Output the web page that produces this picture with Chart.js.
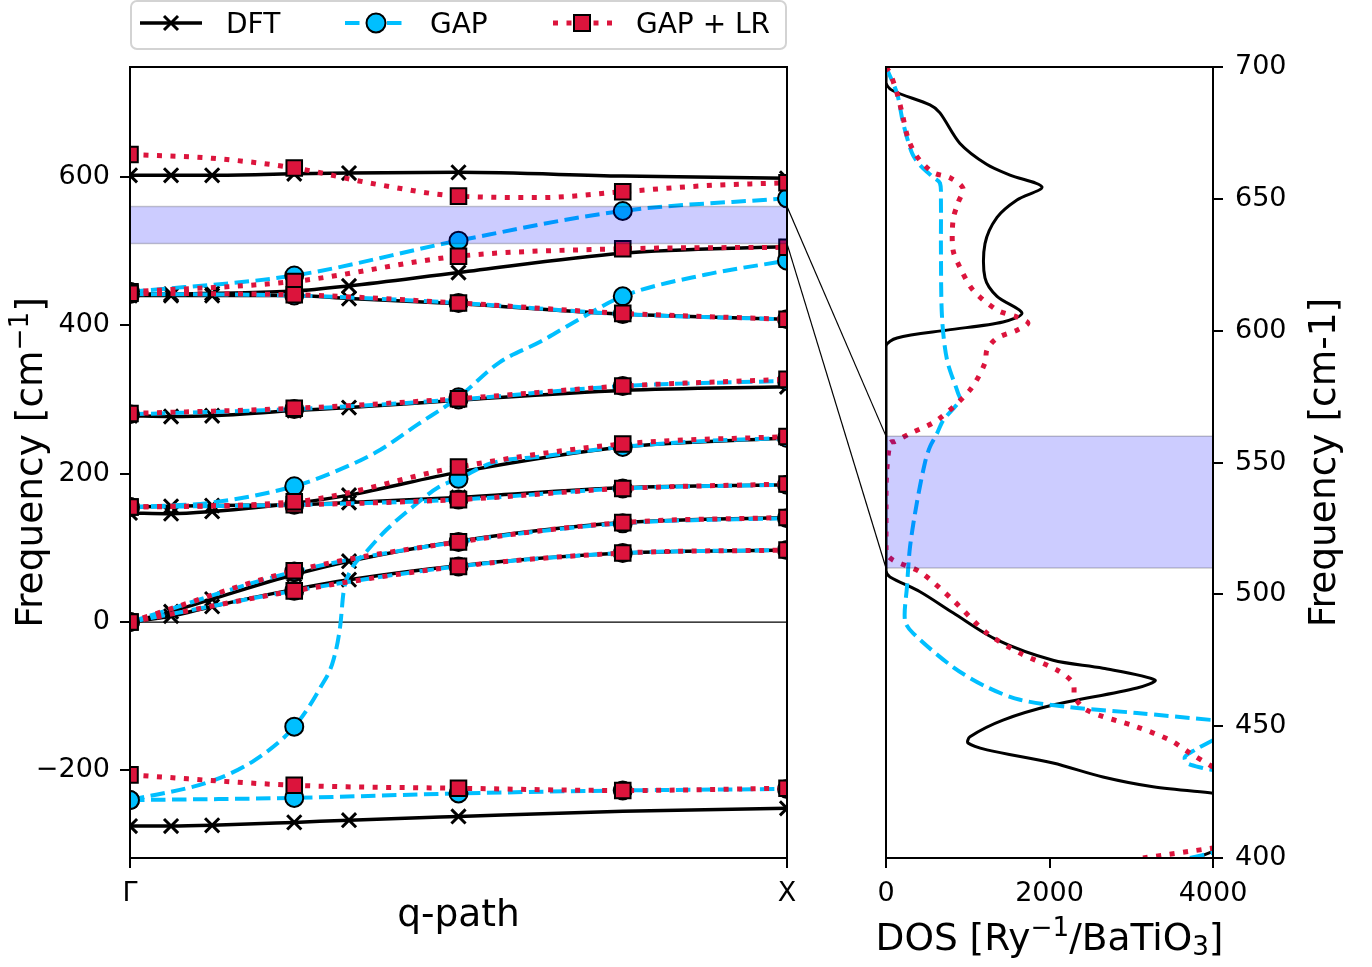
<!DOCTYPE html>
<html>
<head>
<meta charset="utf-8">
<script src="https://cdn.jsdelivr.net/npm/chart.js@4.4.1/dist/chart.umd.min.js"></script>
<style>
body { margin: 0; background: #fff; width: 1372px; height: 967px; overflow: hidden; position: relative; }
canvas { position: absolute; top: 0; }
#left { left: 0; }
#right { left: 830px; }
#overlay { left: 0; pointer-events: none; }
#legend { position: absolute; left: 0; top: 0; }
</style>
</head>
<body>
<canvas id="left" width="830" height="967"></canvas>
<canvas id="right" width="542" height="967"></canvas>
<canvas id="overlay" width="1372" height="967"></canvas>
<svg id="legend" width="800" height="60" font-family="DejaVu Sans" font-size="28">
  <rect x="131" y="1" width="655" height="48" rx="6" ry="6" fill="#fff" stroke="#d3d3d3" stroke-width="2"/>
  <line x1="140" y1="23" x2="202" y2="23" stroke="#000" stroke-width="3.5"/>
  <line x1="164" y1="16" x2="178" y2="30" stroke="#000" stroke-width="3"/>
  <line x1="164" y1="30" x2="178" y2="16" stroke="#000" stroke-width="3"/>
  <text x="226" y="33">DFT</text>
  <line x1="345" y1="23" x2="405" y2="23" stroke="#00BFFF" stroke-width="4" stroke-dasharray="14.5 6.5"/>
  <circle cx="376" cy="23" r="9.5" fill="#00BFFF" stroke="#000" stroke-width="2"/>
  <text x="430" y="33">GAP</text>
  <line x1="553" y1="23" x2="612" y2="23" stroke="#DC143C" stroke-width="5" stroke-dasharray="5 8.5"/>
  <rect x="574" y="15" width="16" height="16" fill="#DC143C" stroke="#000" stroke-width="2"/>
  <text x="636" y="33">GAP + LR</text>
</svg>
<script>
Chart.defaults.font.family = "'DejaVu Sans', sans-serif";
Chart.defaults.color = '#000';
Chart.defaults.animation = false;

// path Γ -> X, as a fraction of its length
qDft = [0, 0.0625, 0.125, 0.25, 1 / 3, 0.5, 0.75, 1];
qDftMarks = [0, 0.0625, 0.125, 0.25, 1 / 3, 0.5, 1];
qFit = [0, 0.25, 0.5, 0.75, 1];
pathTicks = [0, 1];
pathLabels = ['Γ', 'X'];
freqTicks = [-200, 0, 200, 400, 600];
dosTicks = [0, 2000, 4000];
dosFreqTicks = [400, 450, 500, 550, 600, 650, 700];
bandLow = 510;
bandHigh = 560;

// DFT branches (cm^-1)
dft1 = [-275, -275, -274, -270, -267, -262, -255, -251];
dft2 = [0, 8, 21, 44, 57, 76, 93, 97];
dft3 = [0, 14, 31, 64, 82, 109, 134, 141];
dft4 = [147, 146, 149, 160, 171, 202, 236, 248];
dft5 = [155, 156, 157, 158, 161, 168, 181, 185];
dft6 = [278, 277, 278, 285, 289, 299, 312, 317];
dft7 = [440, 440, 440, 440, 436, 429, 415, 408];
dft8 = [442, 442, 443, 446, 453, 471, 497, 506];
dft9 = [602, 602, 602, 604, 605, 606, 601, 598];

// GAP branches
gap1 = [-240, -237, -231, -227, -225];
gap2 = [0, 42, 75, 93, 97];
gap3 = [0, 68, 108, 133, 140];
gap4 = [155, 158, 165, 180, 185];
gap5 = [280, 287, 300, 318, 325];
gap6 = [442, 440, 430, 415, 408];
gap7 = [445, 467, 514, 554, 571];
qGapA = [0, 0.125, 0.25, 0.3125, 0.375, 0.4375, 0.5, 0.5625, 0.625, 0.6875, 0.75, 0.875, 1];
gapA = [155, 161, 183, 203, 229, 266, 303, 350, 378, 410, 439, 468, 487];
qGapC = [0, 0.125, 0.19, 0.25, 0.29, 0.31, 0.32, 0.325, 0.335, 0.36, 0.39, 0.43, 0.47, 0.5, 0.55, 0.625, 0.75, 0.875, 1];
gapC = [-240, -214, -186, -141, -88, -50, -5, 40, 68, 95, 124, 155, 182, 193, 214, 223, 236, 244, 248];

// GAP + LR branches
lr1 = [-206, -220, -224, -227, -224];
lr2 = [0, 42, 75, 93, 97];
lr3 = [0, 69, 108, 134, 141];
lr4 = [155, 162, 209, 240, 250];
lr5 = [155, 158, 165, 180, 186];
lr6 = [281, 288, 301, 318, 327];
lr7 = [443, 441, 430, 416, 408];
lr8 = [445, 459, 493, 503, 505];
qLrTop = [0, 0.125, 0.25, 0.375, 0.5, 0.625, 0.75, 0.875, 1];
lrTop = [630, 625, 612, 590, 574, 572, 580, 588, 592];

// DOS curves (DOS value, frequency)
dosDft = [0, 0, 86, 538, 660, 905, 1235, 1517, 1908, 1602, 1358, 1211, 1211, 1358, 1663, 1431, 746, 135, 0, 0, 49, 416, 820, 1358, 2043, 2654, 3290, 3070, 2043, 1431, 1027, 1003, 1235, 2043, 2654, 3266, 4000];
freqDft = [700, 694, 691, 685.6, 682.6, 671, 663, 659, 654.5, 649.6, 643, 633, 620, 613, 606.7, 603.3, 600.2, 597.2, 594, 509, 506.6, 501, 493, 482.7, 475, 472, 467.5, 464.5, 458, 452.3, 446, 443.6, 441, 436, 430.7, 427, 424.6];
dosDftTail = [3800, 4000];
freqDftTail = [400, 402.5];
dosGap = [0, 135, 208, 318, 416, 575, 660, 672, 672, 685, 746, 880, 905, 700, 624, 538, 477, 379, 294, 257, 232, 330, 820, 1235, 1639, 2250, 3070, 4000];
freqGap = [700, 690, 679, 667.4, 662.8, 658.3, 656, 649.6, 630.6, 605.2, 589, 576.4, 573.7, 566, 561, 556, 550, 535, 518, 503, 490, 485.3, 472.4, 464.8, 460, 457.2, 455, 452.3];
dosGapLoop = [4000, 3779, 3656, 3681, 3877, 4000];
freqGapLoop = [444.7, 441, 438.3, 436, 434.1, 433.4];
dosGapTail = [3718, 4000];
freqGapTail = [400, 402];
dosLr = [0, 49, 135, 196, 269, 379, 575, 783, 942, 880, 820, 820, 905, 1064, 1358, 1602, 1737, 1602, 1358, 1235, 1211, 1027, 624, 294, 110, 49, 0, 0, 86, 416, 820, 1235, 1639, 2091, 2287, 2311, 2458, 3070, 3473, 3718, 4000];
freqLr = [700, 697.7, 690, 682.6, 673, 666, 660, 658, 654, 648.4, 642, 630.6, 624, 615.4, 607.8, 605.2, 602.9, 600.2, 597.2, 592.7, 587.7, 577.5, 566, 561, 558, 557.4, 541, 516, 513, 508.5, 497.8, 485.3, 477.7, 471.3, 466.4, 461, 456, 449.7, 444.7, 439.8, 434.5];
dosLrTail = [3143, 4000];
freqLrTail = [400, 403.8];

BLACK = '#000000';
BLUE = '#00BFFF';
RED = '#DC143C';

dftStyle = { borderColor: BLACK, borderWidth: 3.5, pointStyle: 'crossRot', pointBorderColor: BLACK, pointBackgroundColor: BLACK, pointBorderWidth: 3, order: 3, r: 10 };
gapStyle = { borderColor: BLUE, borderWidth: 4, borderDash: [14.5, 6.5], pointStyle: 'circle', pointBorderColor: BLACK, pointBackgroundColor: BLUE, pointBorderWidth: 2, order: 2, r: 9 };
lrStyle = { borderColor: RED, borderWidth: 5, borderDash: [5, 8.5], pointStyle: 'rect', pointBorderColor: BLACK, pointBackgroundColor: RED, pointBorderWidth: 2, order: 1, r: 11 };

function branch(q, f, marks, style) {
    var ds = Object.assign({}, style);
    var r = ds.r;
    delete ds.r;
    ds.data = q.map((x, i) => ({ x: x, y: f[i] }));
    ds.showLine = true;
    ds.cubicInterpolationMode = 'monotone';
    ds.clip = 0;
    ds.pointRadius = ctx => (ctx.raw && marks.some(m => Math.abs(m - ctx.raw.x) < 1e-6)) ? r : 0;
    return ds;
}

function dosLine(xs, ys, color, width, dash, order) {
    return {
        data: xs.map((x, i) => ({ x: x, y: ys[i] })),
        showLine: true, tension: 0.3, pointRadius: 0, clip: 0,
        borderColor: color, borderWidth: width, borderDash: dash, order: order
    };
}

function fmtMinus(v) {
    return v < 0 ? '\u2212' + Math.abs(v) : String(v);
}

function richText(ctx, parts, x, y, rot, size) {
    ctx.save();
    ctx.translate(x, y);
    ctx.rotate(rot);
    ctx.fillStyle = '#000';
    ctx.textBaseline = 'alphabetic';
    ctx.textAlign = 'left';
    var w = 0;
    parts.forEach(p => { ctx.font = (size * p[1]) + "px 'DejaVu Sans'"; w += ctx.measureText(p[0]).width; });
    var cx = -w / 2;
    parts.forEach(p => {
        ctx.font = (size * p[1]) + "px 'DejaVu Sans'";
        ctx.fillText(p[0], cx, p[2]);
        cx += ctx.measureText(p[0]).width;
    });
    ctx.restore();
}

framePlugin = {
    id: 'frame',
    beforeDatasetsDraw(chart, args, opts) {
        if (!opts.zero) return;
        var ctx = chart.ctx, a = chart.chartArea;
        var y0 = chart.scales.y.getPixelForValue(0);
        ctx.save();
        ctx.strokeStyle = '#000';
        ctx.lineWidth = 1.2;
        ctx.beginPath();
        ctx.moveTo(a.left, y0);
        ctx.lineTo(a.right, y0);
        ctx.stroke();
        ctx.restore();
    },
    afterDatasetsDraw(chart, args, opts) {
        var ctx = chart.ctx, a = chart.chartArea;
        var yTop = chart.scales.y.getPixelForValue(bandHigh);
        var yBot = chart.scales.y.getPixelForValue(bandLow);
        ctx.save();
        ctx.fillStyle = 'rgba(0,0,255,0.2)';
        ctx.fillRect(a.left, yTop, a.right - a.left, yBot - yTop);
        ctx.strokeStyle = 'rgba(0,0,0,0.2)';
        ctx.lineWidth = 1.5;
        ctx.beginPath();
        ctx.moveTo(a.left, yTop); ctx.lineTo(a.right, yTop);
        ctx.moveTo(a.left, yBot); ctx.lineTo(a.right, yBot);
        ctx.stroke();
        ctx.strokeStyle = '#000';
        ctx.lineWidth = 2;
        ctx.strokeRect(a.left, a.top, a.right - a.left, a.bottom - a.top);
        ctx.restore();
    },
    afterDraw(chart, args, opts) {
        var ctx = chart.ctx, a = chart.chartArea;
        var midY = (a.top + a.bottom) / 2;
        richText(ctx, opts.xTitle, (a.left + a.right) / 2, a.bottom + opts.xTitleDy, 0, 37.5);
        var yx = opts.yTitleSide === 'left' ? a.left - opts.yTitleDx : a.right + opts.yTitleDx;
        richText(ctx, opts.yTitle, yx, midY, -Math.PI / 2, 37.5);
    }
};

function axisGrid() {
    return { drawOnChartArea: false, tickLength: 10, lineWidth: 2, color: '#000', tickColor: '#000' };
}

leftChart = new Chart(document.getElementById('left'), {
    type: 'scatter',
    data: {
        datasets: [
            branch(qDft, dft1, qDftMarks, dftStyle), branch(qDft, dft2, qDftMarks, dftStyle),
            branch(qDft, dft3, qDftMarks, dftStyle), branch(qDft, dft4, qDftMarks, dftStyle),
            branch(qDft, dft5, qDftMarks, dftStyle), branch(qDft, dft6, qDftMarks, dftStyle),
            branch(qDft, dft7, qDftMarks, dftStyle), branch(qDft, dft8, qDftMarks, dftStyle),
            branch(qDft, dft9, qDftMarks, dftStyle),
            branch(qFit, gap1, qFit, gapStyle), branch(qFit, gap2, qFit, gapStyle),
            branch(qFit, gap3, qFit, gapStyle), branch(qFit, gap4, qFit, gapStyle),
            branch(qFit, gap5, qFit, gapStyle), branch(qFit, gap6, qFit, gapStyle),
            branch(qFit, gap7, qFit, gapStyle),
            branch(qGapA, gapA, qFit, gapStyle), branch(qGapC, gapC, qFit, gapStyle),
            branch(qFit, lr1, qFit, lrStyle), branch(qFit, lr2, qFit, lrStyle),
            branch(qFit, lr3, qFit, lrStyle), branch(qFit, lr4, qFit, lrStyle),
            branch(qFit, lr5, qFit, lrStyle), branch(qFit, lr6, qFit, lrStyle),
            branch(qFit, lr7, qFit, lrStyle), branch(qFit, lr8, qFit, lrStyle),
            branch(qLrTop, lrTop, qFit, lrStyle)
        ]
    },
    options: {
        responsive: false,
        events: [],
        layout: { padding: { left: 0, top: 67, right: 43, bottom: 0 } },
        plugins: {
            legend: { display: false },
            tooltip: { enabled: false },
            frame: {
                zero: true,
                xTitle: [['q-path', 1, 0]], xTitleDy: 68,
                yTitle: [['Frequency [cm', 1, 0], ['\u22121', 0.7, -14], [']', 1, 0]],
                yTitleSide: 'left', yTitleDx: 88
            }
        },
        scales: {
            x: {
                type: 'linear', min: 0, max: 1,
                afterBuildTicks: s => { s.ticks = pathTicks.map(v => ({ value: v })); },
                afterFit: s => { s.height = 109; },
                ticks: { font: { size: 27 }, padding: 10, maxRotation: 0, autoSkip: false,
                         callback: v => pathLabels[pathTicks.indexOf(v)] },
                grid: axisGrid(),
                border: { display: false }
            },
            y: {
                type: 'linear', min: -318, max: 748,
                afterBuildTicks: s => { s.ticks = freqTicks.map(v => ({ value: v })); },
                afterFit: s => { s.width = 130; },
                ticks: { font: { size: 27 }, padding: 10, callback: v => fmtMinus(v) },
                grid: axisGrid(),
                border: { display: false }
            }
        }
    },
    plugins: [framePlugin]
});

rightChart = new Chart(document.getElementById('right'), {
    type: 'scatter',
    data: {
        datasets: [
            dosLine(dosDft, freqDft, BLACK, 3, [], 3),
            dosLine(dosDftTail, freqDftTail, BLACK, 3, [], 3),
            dosLine(dosGap, freqGap, BLUE, 4, [14.5, 6.5], 2),
            dosLine(dosGapLoop, freqGapLoop, BLUE, 4, [14.5, 6.5], 2),
            dosLine(dosGapTail, freqGapTail, BLUE, 4, [14.5, 6.5], 2),
            dosLine(dosLr, freqLr, RED, 5, [5, 8.5], 1),
            dosLine(dosLrTail, freqLrTail, RED, 5, [5, 8.5], 1)
        ]
    },
    options: {
        responsive: false,
        events: [],
        layout: { padding: { left: 56, top: 67, right: 0, bottom: 0 } },
        plugins: {
            legend: { display: false },
            tooltip: { enabled: false },
            frame: {
                zero: false,
                xTitle: [['DOS [Ry', 1, 0], ['\u22121', 0.7, -14], ['/BaTiO', 1, 0], ['3', 0.7, 5], [']', 1, 0]],
                xTitleDy: 92,
                yTitle: [['Frequency [cm-1]', 1, 0]],
                yTitleSide: 'right', yTitleDx: 122
            }
        },
        scales: {
            x: {
                type: 'linear', min: 0, max: 4000,
                afterBuildTicks: s => { s.ticks = dosTicks.map(v => ({ value: v })); },
                afterFit: s => { s.height = 109; },
                ticks: { font: { size: 27 }, padding: 10, maxRotation: 0, autoSkip: false,
                         callback: v => String(v) },
                grid: axisGrid(),
                border: { display: false }
            },
            y: {
                type: 'linear', position: 'right', min: 400, max: 700,
                afterBuildTicks: s => { s.ticks = dosFreqTicks.map(v => ({ value: v })); },
                afterFit: s => { s.width = 159; },
                ticks: { font: { size: 27 }, padding: 12, callback: v => String(v) },
                grid: axisGrid(),
                border: { display: false }
            }
        }
    },
    plugins: [framePlugin]
});

drawZoomLines();

function drawZoomLines() {
    var ctx = document.getElementById('overlay').getContext('2d');
    var offL = document.getElementById('left').offsetLeft;
    var offR = document.getElementById('right').offsetLeft;
    var xa = offL + leftChart.chartArea.right;
    var xb = offR + rightChart.chartArea.left;
    ctx.strokeStyle = '#000';
    ctx.lineWidth = 1.2;
    [bandHigh, bandLow].forEach(v => {
        ctx.beginPath();
        ctx.moveTo(xa, leftChart.scales.y.getPixelForValue(v));
        ctx.lineTo(xb, rightChart.scales.y.getPixelForValue(v));
        ctx.stroke();
    });
}
</script>
</body>
</html>
